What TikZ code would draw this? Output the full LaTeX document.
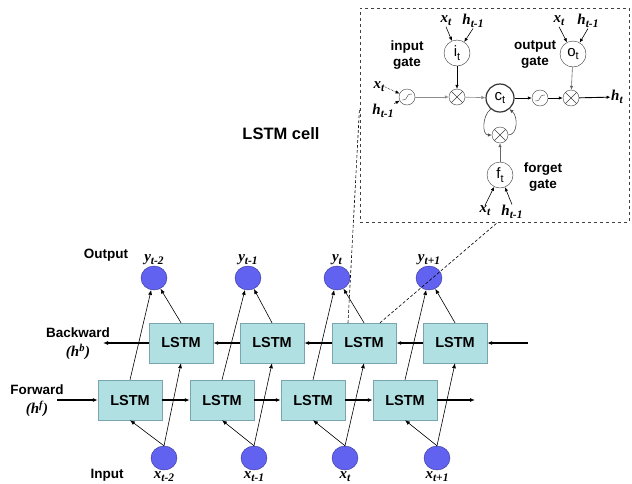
\documentclass[tikz,border=0pt]{standalone}
\usepackage{fontspec}
\setmainfont{Liberation Serif}
\setsansfont{Liberation Sans}
\usetikzlibrary{shapes,shapes.geometric,calc,positioning,arrows.meta}
\definecolor{boxfill}{RGB}{176,224,226}
\definecolor{boxedge}{RGB}{120,165,175}
\definecolor{dotfill}{RGB}{98,98,240}
\definecolor{dotedge}{RGB}{50,50,150}
\newcommand{\vlab}[2]{#1\raisebox{-0.45ex}{\fontsize{11.5}{13}\selectfont #2}}
\newcommand{\glab}[2]{#1\raisebox{-0.5ex}{\fontsize{11}{13}\selectfont #2}}
\tikzset{
  lstm_box/.style = {draw=boxedge, fill=boxfill, minimum width=64pt, minimum height=40pt, inner sep=0pt, font=\sffamily\bfseries\fontsize{14.5}{17}\selectfont},
  io_dot/.style = {ellipse, draw=dotedge, fill=dotfill, minimum width=26pt, minimum height=24pt, inner sep=0pt},
  side_lab/.style = {align=center, inner sep=0pt, font=\sffamily\bfseries\fontsize{13.5}{16}\selectfont},
  var_lab/.style = {inner sep=0.5pt, font=\bfseries\itshape\fontsize{15}{17}\selectfont},
  gate_n/.style = {circle, draw=black!80, minimum size=26pt, inner sep=0pt, font=\sffamily\fontsize{15}{17}\selectfont},
  cell_n/.style = {gate_n, minimum size=28pt, very thick},
  op_n/.style = {circle, draw=black!75, minimum size=16pt, inner sep=0pt},
  mult_n/.style = {op_n, path picture={\draw[black!75] (path picture bounding box.north west) -- (path picture bounding box.south east) (path picture bounding box.south west) -- (path picture bounding box.north east);}},
  sig_n/.style = {op_n, path picture={\draw[black!75] ([shift={(-5pt,-3pt)}]path picture bounding box.center) .. controls +(8pt,0pt) and +(-8pt,0pt) .. ([shift={(5pt,3pt)}]path picture bounding box.center);}},
  flow/.style = {-{Latex[length=5pt,width=4pt]}, line width=0.6pt},
  main_flow/.style = {flow, line width=1.2pt},
  cell_flow/.style = {-{Latex[length=4pt,width=3.5pt]}, line width=0.6pt},
  cell_frame/.style = {draw=black!75, dashed, line width=1pt, minimum width=269pt, minimum height=214pt, inner sep=0pt},
  zoom_line/.style = {densely dashed, line width=0.6pt}
}

\begin{document}
\begin{tikzpicture}[x=1pt,y=-1pt]
\useasboundingbox (0,0) rectangle (632,483);
% forward and backward layers
\node [lstm_box] (f1) at (130,400) {LSTM};
\node [lstm_box] (f2) at (222,400) {LSTM};
\node [lstm_box] (f3) at (313,400) {LSTM};
\node [lstm_box] (f4) at (405,400) {LSTM};
\node [lstm_box] (b1) at (181,343) {LSTM};
\node [lstm_box] (b2) at (272,343) {LSTM};
\node [lstm_box] (b3) at (364,343) {LSTM};
\node [lstm_box] (b4) at (455,343) {LSTM};
% outputs and inputs
\node [io_dot] (y1) at (154,278) {};
\node [io_dot] (y2) at (248,278) {};
\node [io_dot] (y3) at (337,278) {};
\node [io_dot] (y4) at (429,278) {};
\node [io_dot] (x1) at (164,458) {};
\node [io_dot] (x2) at (254,458) {};
\node [io_dot] (x3) at (345,458) {};
\node [io_dot] (x4) at (437,458) {};
\node [var_lab, above=0pt of y1] (ly1) {\vlab{y}{t-2}};
\node [var_lab, above=0pt of y2] (ly2) {\vlab{y}{t-1}};
\node [var_lab, above=0pt of y3] (ly3) {\vlab{y}{t}};
\node [var_lab, above=0pt of y4] (ly4) {\vlab{y}{t+1}};
\node [var_lab, below=0.5pt of x1] (lx1) {\vlab{x}{t-2}};
\node [var_lab, below=0.5pt of x2] (lx2) {\vlab{x}{t-1}};
\node [var_lab, below=0.5pt of x3] (lx3) {\vlab{x}{t}};
\node [var_lab, below=0.5pt of x4] (lx4) {\vlab{x}{t+1}};
\node [side_lab] (outlab) at (106,255) {Output};
\node [side_lab] (bwlab) at (78,344) {Backward\\[3pt]{\rmfamily\itshape\fontsize{15}{17}\selectfont(h\textsuperscript{b})}};
\node [side_lab] (fwlab) at (37,401) {Forward\\[3pt]{\rmfamily\itshape\fontsize{15}{17}\selectfont(h\textsuperscript{f})}};
\node [side_lab] (inlab) at (107,475) {Input};
\coordinate (fin) at (57,400);
\coordinate (fout) at (475,400);
\coordinate (bin) at (528,343);
\coordinate (bout) at (103,343);
\draw [main_flow] (fin) -- (f1);
\draw [main_flow] (f1) -- (f2);
\draw [main_flow] (f2) -- (f3);
\draw [main_flow] (f3) -- (f4);
\draw [main_flow] (f4) -- (fout);
\draw [main_flow] (bin) -- (b4);
\draw [main_flow] (b4) -- (b3);
\draw [main_flow] (b3) -- (b2);
\draw [main_flow] (b2) -- (b1);
\draw [main_flow] (b1) -- (bout);
\draw [flow] (f1.north) -- (y1);
\draw [flow] (b1.north) -- (y1);
\draw [flow] (f2.north) -- (y2);
\draw [flow] (b2.north) -- (y2);
\draw [flow] (f3.north) -- (y3);
\draw [flow] (b3.north) -- (y3);
\draw [flow] (f4.north) -- (y4);
\draw [flow] (b4.north) -- (y4);
\draw [flow] (x1.north) -- (f1.south);
\draw [flow] (x1.north) -- (b1.south);
\draw [flow] (x2.north) -- (f2.south);
\draw [flow] (x2.north) -- (b2.south);
\draw [flow] (x3.north) -- (f3.south);
\draw [flow] (x3.north) -- (b3.south);
\draw [flow] (x4.north) -- (f4.south);
\draw [flow] (x4.north) -- (b4.south);
% lstm cell
\node [cell_frame] (cellbox) at (494.5,115) {};
\node [side_lab, font=\sffamily\bfseries\fontsize{16.5}{19}\selectfont] (celllab) at (281,134) {LSTM cell};
\draw [zoom_line] ([xshift=-16pt]b3.north) -- ($(cellbox.west)+(0,-7)$);
\draw [zoom_line] ([xshift=16pt]b3.north) -- ([xshift=3pt]cellbox.south);
\node [sig_n] (sg1) at (407,97) {};
\node [mult_n] (m1) at (457,97) {};
\node [cell_n] (ct) at (500,98) {\glab{c}{t}};
\node [sig_n] (sg2) at (540,98) {};
\node [mult_n] (m2) at (571,98) {};
\node [mult_n] (fm) at (500,135) {};
\node [gate_n] (it) at (457,53) {\glab{i}{t}};
\node [gate_n] (ot) at (573,54) {\glab{o}{t}};
\node [gate_n] (ft) at (500,175) {\glab{f}{t}};
\node [var_lab] (cx0) at (379,87) {\vlab{x}{t}};
\node [var_lab] (ch0) at (383,111) {\vlab{h}{t-1}};
\node [var_lab] (cx1) at (446,21) {\vlab{x}{t}};
\node [var_lab] (ch1) at (473,21) {\vlab{h}{t-1}};
\node [var_lab] (cx2) at (559,21) {\vlab{x}{t}};
\node [var_lab] (ch2) at (588,21) {\vlab{h}{t-1}};
\node [var_lab] (cx3) at (485,211) {\vlab{x}{t}};
\node [var_lab] (ch3) at (512,212) {\vlab{h}{t-1}};
\node [var_lab] (hout) at (617,97) {\vlab{h}{t}};
\node [side_lab] (inglab) at (407,55) {input\\gate};
\node [side_lab] (outglab) at (535,55) {output\\gate};
\node [side_lab] (fglab) at (543,177) {forget\\gate};
\draw [cell_flow, densely dotted] (cx0.east) -- (sg1);
\draw [cell_flow] (ch0.north east) -- (sg1);
\draw [cell_flow, black!45] (sg1) -- (m1);
\draw [cell_flow, black!45] (m1) -- (ct);
\draw [cell_flow] (it) -- (m1);
\draw [cell_flow] (cx1.south) -- (it);
\draw [cell_flow] (ch1.south) -- (it);
\draw [cell_flow, line width=0.9pt] (ct) -- (sg2);
\draw [cell_flow, line width=0.9pt] (sg2) -- (m2);
\draw [cell_flow, line width=0.9pt] (m2) -- (hout);
\draw [cell_flow, black!60] (ot) -- (m2);
\draw [cell_flow] (cx2.south) -- (ot);
\draw [cell_flow] (ch2.south) -- (ot);
\draw [cell_flow, black!60] (ft) -- (fm);
\draw [cell_flow] (cx3.north) -- (ft);
\draw [cell_flow] (ch3.north) -- (ft);
\draw [cell_flow, black!70] (ct.230) .. controls (482,116) and (482,135) .. (fm.west);
\draw [cell_flow, black!70] (fm.east) .. controls (518,135) and (518,116) .. (ct.310);
\end{tikzpicture}
\end{document}
